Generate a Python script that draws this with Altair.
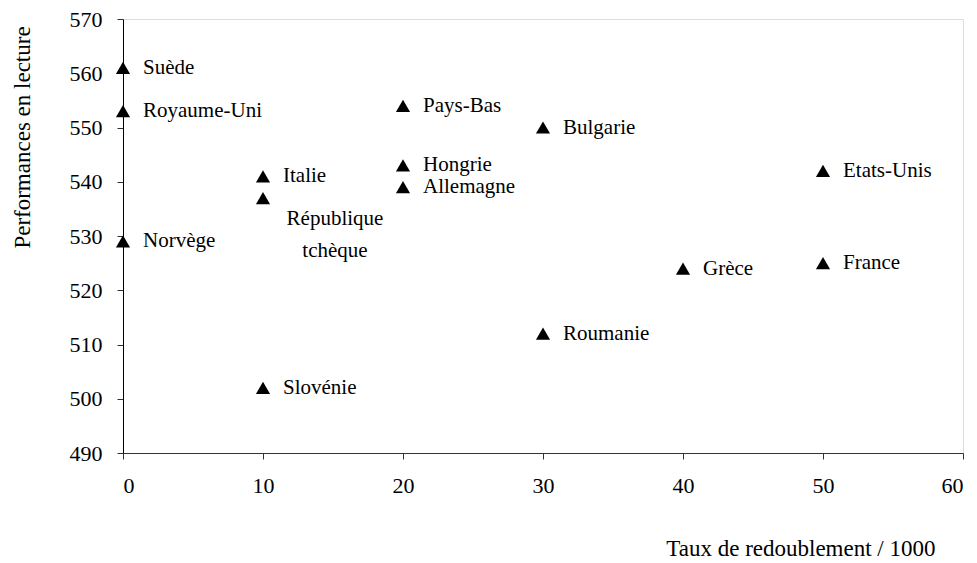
import altair as alt
import pandas as pd

pays = ["Suède", "Royaume-Uni", "Norvège", "Italie", "République\ntchèque", "Slovénie",
        "Pays-Bas", "Hongrie", "Allemagne", "Bulgarie", "Roumanie", "Grèce",
        "Etats-Unis", "France"]
redoublement = [0, 0, 0, 10, 10, 10, 20, 20, 20, 30, 30, 40, 50, 50]
lecture = [561, 553, 529, 541, 537, 502, 554, 543, 539, 550, 512, 524, 542, 525]

df = pd.DataFrame({"pays": pays, "x": redoublement, "y": lecture})

FONT = "Liberation Serif, Times New Roman, serif"
FS = 22
FS_LAB = 21

xs = alt.Scale(domain=[0, 60], nice=False, zero=False)
ys = alt.Scale(domain=[490, 570], nice=False, zero=False)

base = alt.Chart(df)

points = base.mark_point(shape="triangle-up", filled=True, color="black", size=200, opacity=1).encode(
    x=alt.X("x:Q", scale=xs, axis=alt.Axis(
        values=[0, 10, 20, 30, 40, 50, 60], grid=False, tickSize=6, labelPadding=16,
        domainColor="#333333", tickColor="#333333", labelColor="black",
        labelFont=FONT, labelFontSize=FS,
        title="Taux de redoublement / 1000", titleFont=FONT, titleFontSize=23,
        titleFontWeight="normal", titleColor="black",
        titleAnchor="end", titleAlign="right", titleX=812, titleY=95, titleBaseline="middle")),
    y=alt.Y("y:Q", scale=ys, axis=alt.Axis(
        values=[490, 500, 510, 520, 530, 540, 550, 560, 570], grid=False, tickSize=6, labelPadding=15,
        domainColor="black", tickColor="#333333", labelColor="black",
        labelFont=FONT, labelFontSize=FS,
        title="Performances en lecture", titleFont=FONT, titleFontSize=23,
        titleFontWeight="normal", titleColor="black",
        titleAngle=270, titleX=-101, titleY=118, titleAlign="center", titleBaseline="middle")),
)

labels = base.transform_filter(
    alt.datum.pays != "République\ntchèque"
).mark_text(align="left", baseline="middle", dx=20, font=FONT, fontSize=FS_LAB, color="black").encode(
    x=alt.X("x:Q", scale=xs), y=alt.Y("y:Q", scale=ys), text="pays:N"
)

label_rt = base.transform_filter(
    alt.datum.pays == "République\ntchèque"
).mark_text(align="center", baseline="middle", dx=72, dy=21, font=FONT, fontSize=FS_LAB,
            color="black", lineBreak="\n", lineHeight=32).encode(
    x=alt.X("x:Q", scale=xs), y=alt.Y("y:Q", scale=ys), text="pays:N"
)

chart = (points + labels + label_rt).properties(
    width=840, height=434,
    padding={"left": 3, "top": 0, "right": 5, "bottom": 0}
).configure_view(stroke="#808080", strokeWidth=1.5).configure(background="white")

chart.save("out.html", embed_options={"renderer": "svg", "actions": False})
